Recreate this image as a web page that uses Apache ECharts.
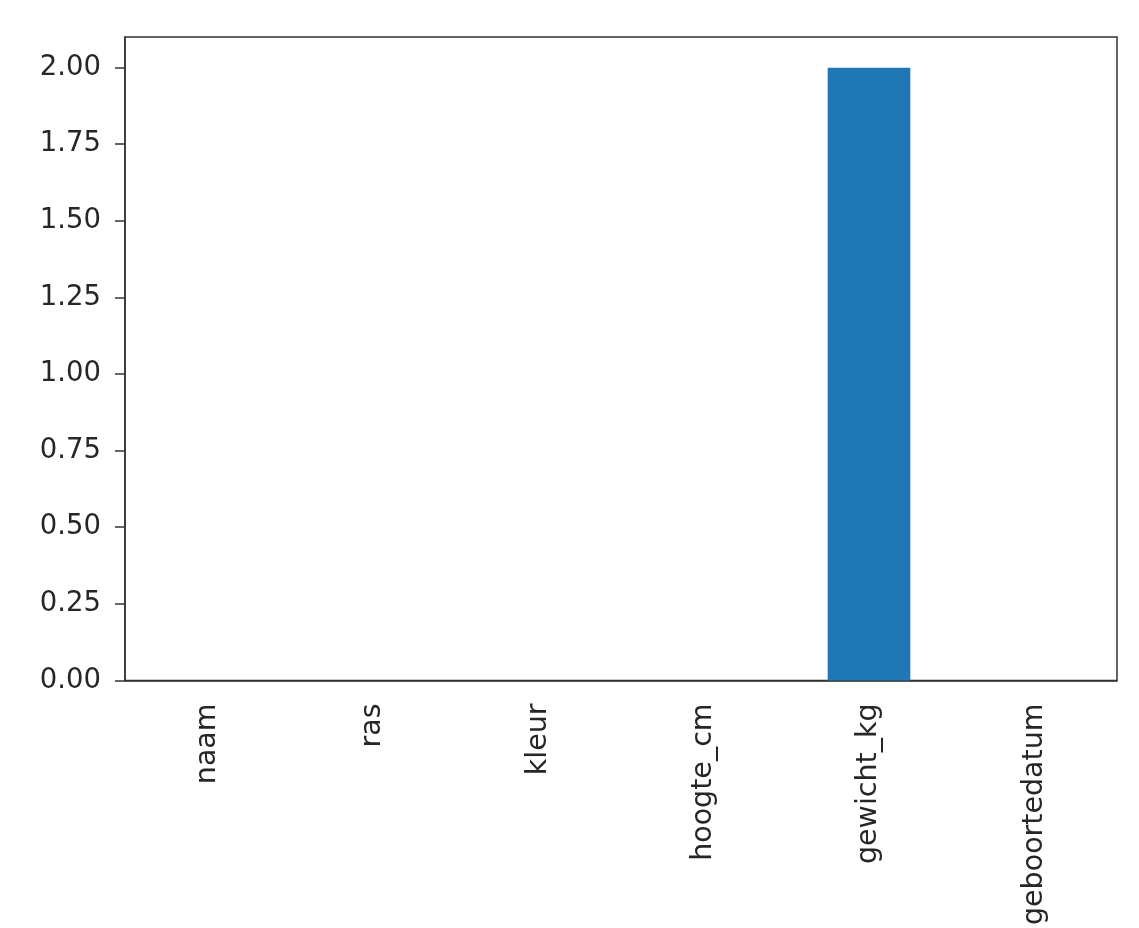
<!DOCTYPE html>
<html>
<head>
    <meta charset="utf-8" />
    <title>ECharts</title>
    <script src="https://cdn.jsdelivr.net/npm/echarts@6/dist/echarts.min.js"></script>
    <style>
        html, body { margin: 0; padding: 0; background: #fff; }
    </style>
</head>
<body>
    <div id="main" style="width: 1139px;height:928px;"></div>
    <script type="text/javascript">
        // data
        var categories = ['naam', 'ras', 'kleur', 'hoogte_cm', 'gewicht_kg', 'geboortedatum'];
        var values = [0, 0, 0, 0, 2, 0];
        var yTicks = [0, 0.25, 0.5, 0.75, 1, 1.25, 1.5, 1.75, 2];

        var myChart = echarts.init(document.getElementById('main'));

        var font = 'DejaVu Sans';
        var option = {
            animation: false,
            grid: {
                left: 125,
                right: 22,
                top: 37,
                bottom: 247,
                show: true,
                borderColor: '#333',
                borderWidth: 1.5,
                backgroundColor: '#fff'
            },
            xAxis: {
                type: 'category',
                data: categories,
                axisLine: { lineStyle: { color: '#333', width: 1.5 } },
                axisTick: { alignWithLabel: true, length: 10, lineStyle: { color: '#333', width: 1.5 } },
                axisLabel: {
                    rotate: 90,
                    margin: 23,
                    fontSize: 28.5,
                    fontFamily: font,
                    color: '#262626',
                    interval: 0
                }
            },
            yAxis: {
                type: 'value',
                min: 0,
                max: 2.1,
                splitLine: { show: false },
                axisLine: { show: true, lineStyle: { color: '#333', width: 1.5 } },
                axisTick: { show: true, length: 10, customValues: yTicks, lineStyle: { color: '#333', width: 1.5 } },
                axisLabel: {
                    customValues: yTicks,
                    margin: 24,
                    fontSize: 27.5,
                    fontFamily: font,
                    color: '#262626',
                    formatter: function (v) { return v.toFixed(2); }
                }
            },
            series: [
                {
                    type: 'bar',
                    data: values,
                    barWidth: '50%',
                    itemStyle: { color: '#1f77b4' }
                }
            ]
        };

        myChart.setOption(option);
    </script>
</body>
</html>
